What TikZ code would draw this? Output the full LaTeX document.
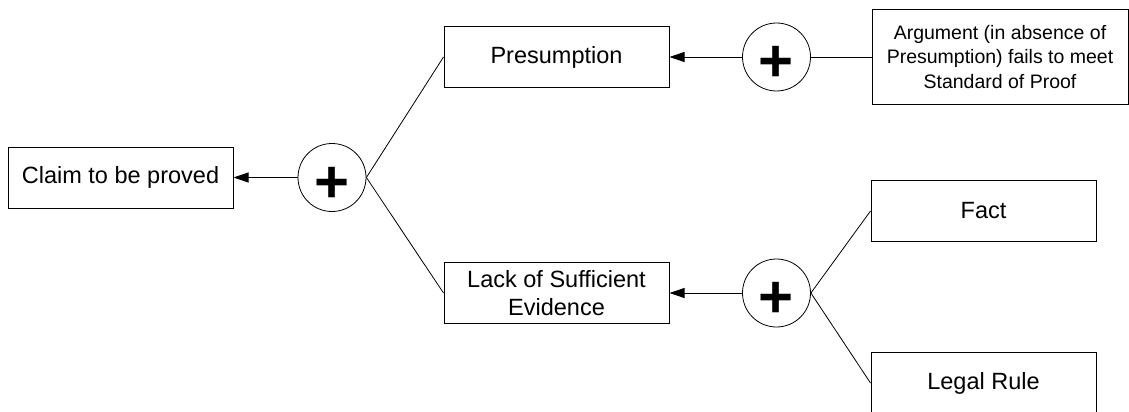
\documentclass[tikz,border=0pt]{standalone}
\usepackage{fontspec}
\setmainfont{Liberation Sans}
\usetikzlibrary{arrows.meta}
\begin{document}
\begin{tikzpicture}[x=1pt,y=-1pt,
  box/.style={draw, line width=1pt, minimum width=225pt, minimum height=61pt,
    inner sep=0pt, align=center, font=\fontsize{23.5}{28.3}\selectfont},
  smallbox/.style={box, font=\fontsize{19.5}{24.7}\selectfont},
  joint/.style={draw, circle, line width=0.8pt, minimum size=68pt, inner sep=0pt},
  plussign/.style={anchor=base, inner sep=0pt, font=\fontsize{60}{60}\selectfont\bfseries},
  arr/.style={line width=0.8pt, -{Triangle[length=15pt,width=10pt]}},
  lnk/.style={line width=0.8pt}]
\useasboundingbox (0,0) rectangle (1129,412);
\node[box] (claim) at (120.5,177.5) {Claim to be proved};
\node[joint] (j1) at (332,177.5) {};
\node[plussign] (p1) at (332,202) {+};
\node[box] (pres) at (556.5,57) {Presumption};
\node[box] (lack) at (556.5,293) {Lack of Sufficient\\Evidence};
\node[joint] (j2) at (776.5,57) {};
\node[plussign] (p2) at (776.5,81.5) {+};
\node[joint] (j3) at (776.5,293) {};
\node[plussign] (p3) at (776.5,317.5) {+};
\node[smallbox, minimum width=256pt, minimum height=95pt] (arg) at (1000,57)
  {Argument (in absence of\\Presumption) fails to meet\\Standard of Proof};
\node[box] (fact) at (983.5,211) {Fact};
\node[box] (rule) at (983.5,383) {Legal Rule};
\draw[arr] (j1.west) -- (claim.east);
\draw[lnk] (j1.east) -- (pres.west);
\draw[lnk] (j1.east) -- (lack.west);
\draw[arr] (j2.west) -- (pres.east);
\draw[lnk] (j2.east) -- (arg.west);
\draw[arr] (j3.west) -- (lack.east);
\draw[lnk] (j3.east) -- (fact.west);
\draw[lnk] (j3.east) -- (rule.west);
\end{tikzpicture}
\end{document}
